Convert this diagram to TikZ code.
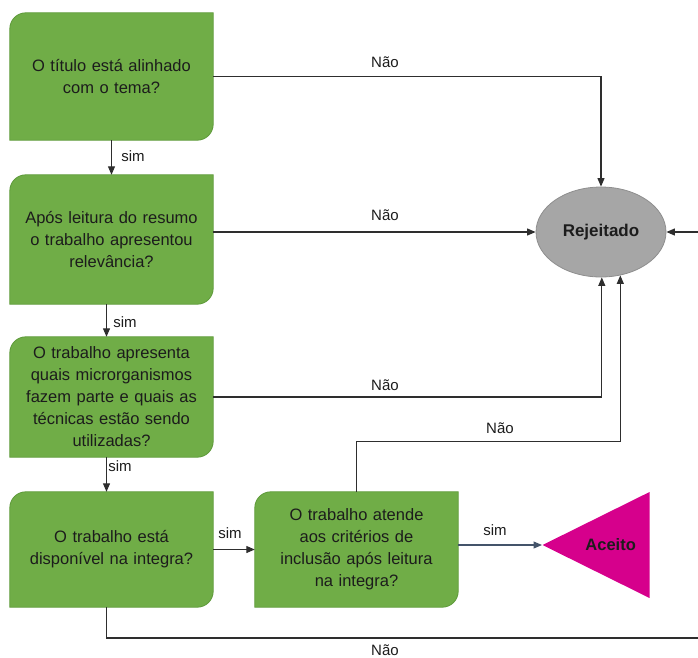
\documentclass[tikz,border=0pt]{standalone}
\usepackage{fontspec}
\setmainfont{Liberation Sans}
\usetikzlibrary{positioning,arrows.meta,shapes.geometric,backgrounds,calc}
\definecolor{qFill}{HTML}{70AD47}
\definecolor{qBorder}{HTML}{5E9A3A}
\definecolor{qText}{HTML}{1C1C1C}
\definecolor{rejFill}{HTML}{A6A6A6}
\definecolor{rejBorder}{HTML}{8E8E8E}
\definecolor{aceFill}{HTML}{D6008C}
\definecolor{wire}{HTML}{2E2E2E}
\definecolor{simWire}{HTML}{44546A}
% green question box: only top-left and bottom-right corners rounded
\newcommand{\qshape}[1]{%
  \begin{pgfonlayer}{background}
    \filldraw[qshapestyle] ([yshift=-16pt]#1.north west)
      arc[start angle=180, end angle=90, radius=16pt] -- (#1.north east)
      -- ([yshift=16pt]#1.south east)
      arc[start angle=0, end angle=-90, radius=16pt] -- (#1.south west) -- cycle;
  \end{pgfonlayer}}

\begin{document}
\begin{tikzpicture}[x=1pt, y=1pt,
    >={Triangle[length=8.5pt,width=7pt]},
    every node/.style={text=qText},
    qbox/.style={rectangle, minimum width=203pt, text width=190pt, align=center,
                 inner sep=0pt, font=\fontsize{16.5}{22}\selectfont},
    qshapestyle/.style={fill=qFill, draw=qBorder, line width=0.8pt},
    rejeitado/.style={ellipse, fill=rejFill, draw=rejBorder, line width=0.8pt,
                      minimum width=130pt, minimum height=90pt, inner sep=0pt,
                      font=\bfseries\fontsize{17}{20}\selectfont},
    aceito/.style={isosceles triangle, isosceles triangle stretches,
                   shape border rotate=180, fill=aceFill, draw=none,
                   minimum width=106pt, minimum height=107pt, inner sep=0pt,
                   font=\bfseries\fontsize{16.5}{20}\selectfont},
    lbl/.style={font=\fontsize{15}{18}\selectfont, inner sep=1pt},
    link/.style={->, draw=wire, line width=1.1pt},
    simlink/.style={->, draw=simWire, line width=1.1pt},
]
\useasboundingbox (0,0) rectangle (698,-657);
\clip (0,0) rectangle (698,-657);

% --- question boxes ---
\node[qbox, minimum height=127pt] (titulo) at (111.5,-76.5)
  {O título está alinhado\\com o tema?};
\qshape{titulo}
\node[qbox, minimum height=129pt] (resumo) at (111.5,-239.5)
  {Após leitura do resumo\\o trabalho apresentou\\relevância?};
\qshape{resumo}
\node[qbox, minimum height=120pt] (micro) at (111.5,-397)
  {O trabalho apresenta\\quais microrganismos\\fazem parte e quais as\\técnicas estão sendo\\utilizadas?};
\qshape{micro}
\node[qbox, minimum height=115pt] (integra) at (111.5,-549.5)
  {O trabalho está\\disponível na integra?};
\qshape{integra}
\node[qbox, minimum height=115pt] (criterio) at (356.5,-549.5)
  {O trabalho atende\\aos critérios de\\inclusão após leitura\\na integra?};
\qshape{criterio}

% --- outcomes ---
\node[rejeitado] (rej) at (601,-232) {Rejeitado};
\node[aceito, anchor=apex] (aceito) at (542,-545) {Aceito};

% --- "sim" path down the left column ---
\draw[link] (titulo.south) -- (resumo.north);
\draw[link] ([xshift=-5pt]resumo.south) -- ([xshift=-5pt]micro.north);
\draw[link] ([xshift=-5pt]micro.south) -- ([xshift=-5pt]integra.north);
\draw[link] (integra.east) -- (criterio.west);
\draw[simlink] (criterio.east |- aceito.apex) -- (aceito.apex);

% --- "Não" paths into Rejeitado ---
\draw[link] (titulo.east) -| (rej.north);
\draw[link] (resumo.east |- rej.west) -- (rej.west);
\draw[link] (micro.east) -| (rej.-89);
\draw[link] (criterio.north) -- ++(0,50) -| (rej.-66);
\coordinate (volta) at (720,-638);
\draw[link] ([xshift=-5pt]integra.south) |- (volta) |- (rej.east);

% --- labels ---
\node[lbl] (sim1) at (133,-156) {sim};
\node[lbl] (sim2) at (125,-322) {sim};
\node[lbl] (sim3) at (120,-466) {sim};
\node[lbl] (sim4) at (230,-533) {sim};
\node[lbl] (sim5) at (495,-530) {sim};
\node[lbl] (nao1) at (385,-62) {Não};
\node[lbl] (nao2) at (385,-215) {Não};
\node[lbl] (nao3) at (385,-385) {Não};
\node[lbl] (nao4) at (500,-428) {Não};
\node[lbl] (nao5) at (385,-650) {Não};

\end{tikzpicture}
\end{document}
